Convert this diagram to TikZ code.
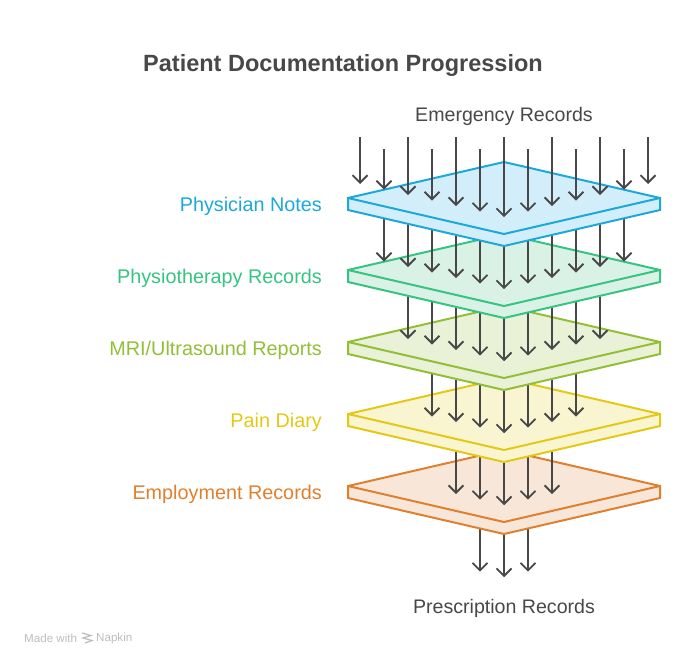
\documentclass[tikz,border=0pt]{standalone}
\usepackage{fontspec}
\setmainfont{Liberation Sans}
\usepackage{xcolor}
\usetikzlibrary{arrows.meta,calc}
\definecolor{inkgray}{HTML}{484848}
\definecolor{markgray}{HTML}{BDBDBD}
\definecolor{physline}{HTML}{1EA8DA}
\definecolor{physfill}{HTML}{D2EEFA}
\definecolor{theraline}{HTML}{35C481}
\definecolor{therafill}{HTML}{D9F2E5}
\definecolor{mriline}{HTML}{93BE35}
\definecolor{mrifill}{HTML}{E9F2D6}
\definecolor{painline}{HTML}{E3C913}
\definecolor{painfill}{HTML}{F9F5D0}
\definecolor{jobline}{HTML}{E07F2E}
\definecolor{jobfill}{HTML}{F8E6D8}
% one slab: #1 line colour, #2 fill colour, #3 y of its back corner
\newcommand{\slab}[3]{
 \filldraw[slabline,draw=#1,fill=#2] (348,#3+36) -- (504,#3) -- (660,#3+36)
   -- (660,#3+48) -- (504,#3+84) -- (348,#3+48) -- cycle;
 \draw[slabline,draw=#1] (348,#3+36) -- (504,#3+72) -- (660,#3+36);
}
% arrows of one gap: #1 row number, #2 list of x values
\newcommand{\droprow}[2]{
 \foreach \xpos in {#2} {
   \pgfmathsetmacro{\tipy}{184+0.2308*(144-abs(\xpos-504))+72*#1}
   \coordinate (from\xpos) at (\xpos,\tipy-50);
   \coordinate (to\xpos) at (\xpos,\tipy);
   \draw[drop] (from\xpos) -- (to\xpos);
 }
}
\begin{document}
\begin{tikzpicture}[x=1pt,y=-1pt,
    slabline/.style={line width=2pt,line join=miter},
    drop/.style={line width=1.9pt,draw=inkgray,-{Straight Barb[length=7.5pt,width=15pt,line width=1.9pt]}},
    label/.style={anchor=east,inner sep=0pt,font=\fontsize{19.8}{24}\selectfont},
    stack/.style={anchor=center,text=inkgray,font=\fontsize{19.6}{24}\selectfont}]
 \useasboundingbox (0,0) rectangle (685,667);
 \node[anchor=center,text=inkgray,font=\fontsize{23.5}{28}\selectfont\bfseries] (title) at (343,65.5) {Patient Documentation Progression};
 \node[stack] (emergency) at (504,116) {Emergency Records};
 \node[stack] (prescription) at (504,608) {Prescription Records};
 \node[label,text=physline] (physician) at (322,206) {Physician Notes};
 \node[label,text=theraline] (physio) at (322,278) {Physiotherapy Records};
 \node[label,text=mriline] (mri) at (322,350) {MRI/Ultrasound Reports};
 \node[label,text=painline] (pain) at (322,422) {Pain Diary};
 \node[label,text=jobline] (employment) at (322,494) {Employment Records};
 % painted from the bottom up
 \droprow{5}{480,504,528}
 \slab{jobline}{jobfill}{450}
 \droprow{4}{456,480,504,528,552}
 \slab{painline}{painfill}{378}
 \droprow{3}{432,456,480,504,528,552,576}
 \slab{mriline}{mrifill}{306}
 \droprow{2}{408,432,456,480,504,528,552,576,600}
 \slab{theraline}{therafill}{234}
 \droprow{1}{384,408,432,456,480,504,528,552,576,600,624}
 \slab{physline}{physfill}{162}
 % top row, two start heights
 \foreach \xpos in {360,408,456,504,552,600,648} {
   \pgfmathsetmacro{\tipy}{184+0.2308*(144-abs(\xpos-504))}
   \coordinate (from\xpos) at (\xpos,137);
   \coordinate (to\xpos) at (\xpos,\tipy);
   \draw[drop] (from\xpos) -- (to\xpos);
 }
 \foreach \xpos in {384,432,480,528,576,624} {
   \pgfmathsetmacro{\tipy}{184+0.2308*(144-abs(\xpos-504))}
   \coordinate (from\xpos) at (\xpos,149);
   \coordinate (to\xpos) at (\xpos,\tipy);
   \draw[drop] (from\xpos) -- (to\xpos);
 }
 % footer mark
 \node[anchor=west,inner sep=0pt,text=markgray,font=\fontsize{11.6}{13}\selectfont] (madewith) at (24,638.5) {Made with};
 \node[anchor=west,inner sep=0pt,text=markgray,font=\fontsize{11.6}{13}\selectfont] (napkin) at (96,638.5) {Napkin};
 \draw[line width=1.2pt,markgray] (82,633) -- (91,635.5) -- (83,638) -- (92,640.5) -- (85,643);
\end{tikzpicture}
\end{document}
